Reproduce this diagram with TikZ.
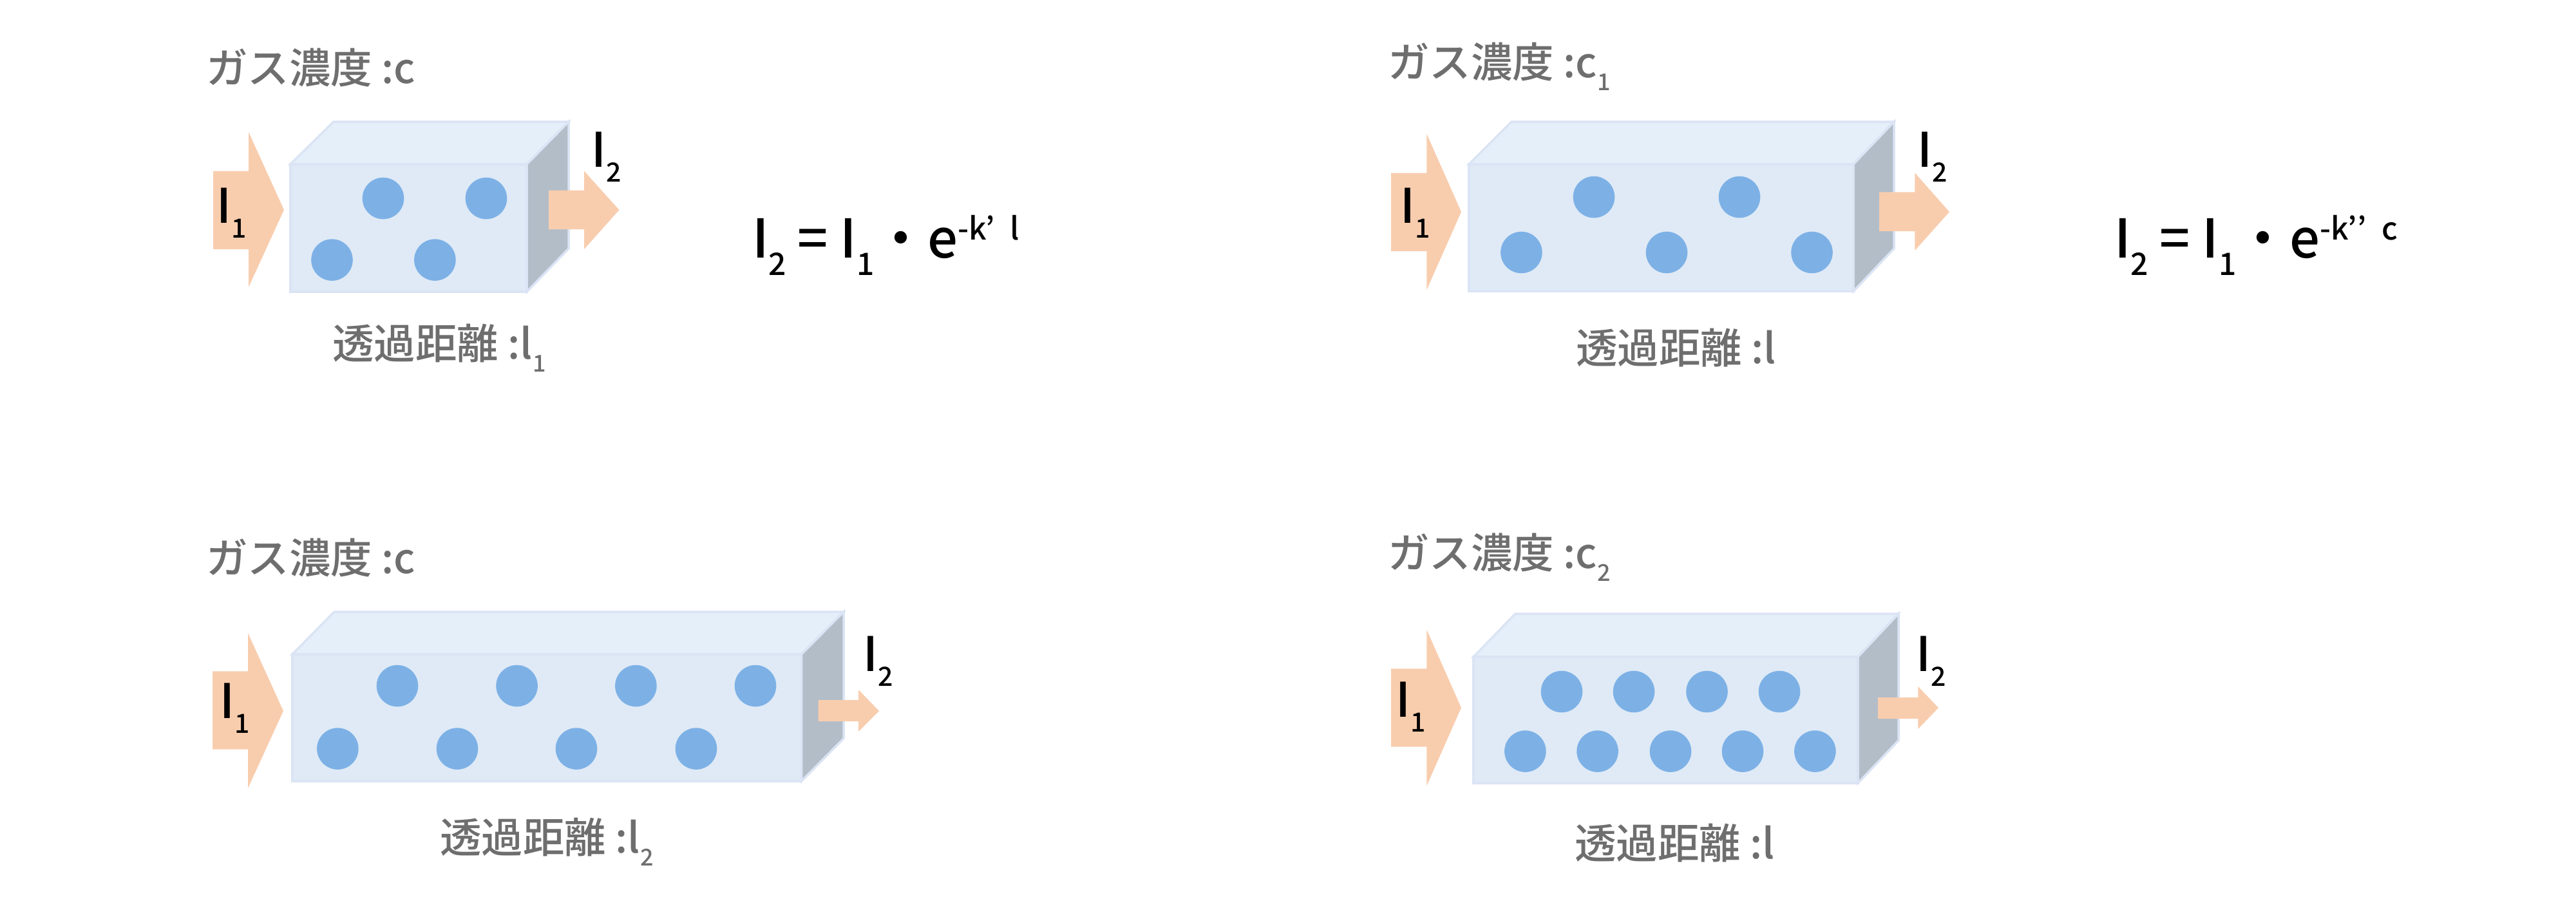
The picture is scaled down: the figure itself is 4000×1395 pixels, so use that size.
\documentclass[tikz,border=0pt]{standalone}
\usepackage{fontspec}
\usepackage{tikz}
\setmainfont{Noto Sans CJK JP Medium}
\newcommand{\lowi}[1]{\raisebox{-23pt}{\fontsize{41pt}{41pt}\selectfont #1}}
\newcommand{\lowt}[1]{\raisebox{-20pt}{\fontsize{36pt}{36pt}\selectfont #1}}
\newcommand{\lowf}[1]{\raisebox{-27pt}{\fontsize{48pt}{48pt}\selectfont #1}}
\newcommand{\upf}[1]{\raisebox{28pt}{\fontsize{48pt}{48pt}\selectfont #1}}

\begin{document}
\begin{tikzpicture}[x=1pt,y=-1pt,
    front/.style={fill=boxfront,draw=boxline,line width=3.5pt,line join=miter},
    top/.style={fill=boxtop,draw=boxline,line width=3.5pt},
    side/.style={fill=boxside,draw=boxline,line width=3.5pt},
    beam/.style={fill=beamc},
    gas/.style={fill=gasc},
    grayt/.style={inner sep=0pt,anchor=base west,text=txtc,font=\fontsize{64.5pt}{64.5pt}\selectfont},
    intens/.style={inner sep=0pt,anchor=base west,text=black,font=\fontsize{74pt}{74pt}\selectfont},
    law/.style={inner sep=0pt,anchor=base west,text=black,font=\fontsize{83pt}{83pt}\selectfont}]
    \definecolor{boxfront}{HTML}{DFEAF6}
    \definecolor{boxtop}{HTML}{E5EFF9}
    \definecolor{boxside}{HTML}{B3BDC8}
    \definecolor{boxline}{HTML}{DAE4F4}
    \definecolor{beamc}{HTML}{F8CDAE}
    \definecolor{gasc}{HTML}{7DB1E6}
    \definecolor{txtc}{HTML}{6E6E6E}
    \useasboundingbox (0,0) rectangle (4000,1395);
    % upper left
    \fill[beam] (331,265.5) -- (386,265.5) -- (386,205) -- (441,326) -- (386,446) -- (386,387) -- (331,387) -- cycle;
    \draw[top] (451,255) -- (518,189) -- (883,189) -- (818,255) -- cycle;
    \draw[side] (818,255) -- (883,189) -- (883,386) -- (818,453) -- cycle;
    \draw[front] (451,255) rectangle (818,453);
    \foreach \cx/\cy in {595/308,755/308,515.5/403.6,675.4/403.6}
        \fill[gas] (\cx,\cy) circle[radius=32.3];
    \fill[beam] (852,295.5) -- (907,295.5) -- (907,265.5) -- (961.5,326) -- (907,387) -- (907,356) -- (852,356) -- cycle;
    \node[grayt] (conca) at (320,129.4) {ガス濃度 :c};
    \node[grayt] (lena) at (516,557) {透過距離 :l\lowt{1}};
    \node[intens] (ina) at (336,346) {I\lowi{1}};
    \node[intens] (outa) at (918,259) {I\lowi{2}};
    \node[law] (lawa) at (1168,400) {I\lowf{2}\hspace{17pt}=\hspace{19pt}I\lowf{1}・e\upf{-k’\hspace{24pt}l}};
    % upper right
    \fill[beam] (2160,268.5) -- (2215.4,268.5) -- (2215.4,208) -- (2269,329) -- (2215.4,450) -- (2215.4,390) -- (2160,390) -- cycle;
    \draw[top] (2281,255) -- (2347,189) -- (2941,189) -- (2878,255) -- cycle;
    \draw[side] (2878,255) -- (2941,189) -- (2941,386) -- (2878,452.3) -- cycle;
    \draw[front] (2281,255) rectangle (2878,452.3);
    \foreach \cx/\cy in {2475/306,2701/306,2362.4/392,2588/392,2813.5/392}
        \fill[gas] (\cx,\cy) circle[radius=32.3];
    \fill[beam] (2918,298.3) -- (2973.4,298.3) -- (2973.4,268.5) -- (3027,329) -- (2973.4,389) -- (2973.4,359) -- (2918,359) -- cycle;
    \node[grayt] (concb) at (2155,120.5) {ガス濃度 :c\lowt{1}};
    \node[grayt] (lenb) at (2447,564.6) {透過距離 :l};
    \node[intens] (inb) at (2174,346) {I\lowi{1}};
    \node[intens] (outb) at (2977,259) {I\lowi{2}};
    \node[law] (lawb) at (3283,400) {I\lowf{2}\hspace{17pt}=\hspace{19pt}I\lowf{1}・e\upf{-k’’\hspace{24pt}c}};
    % lower left
    \fill[beam] (330,1042.4) -- (385,1042.4) -- (385,983) -- (440,1104) -- (385,1224) -- (385,1163.6) -- (330,1163.6) -- cycle;
    \draw[top] (454,1016) -- (519,950) -- (1310,950) -- (1244.5,1016) -- cycle;
    \draw[side] (1244.5,1016) -- (1310,950) -- (1310,1146.7) -- (1244.5,1213) -- cycle;
    \draw[front] (454,1016) rectangle (1244.5,1213);
    \foreach \cx/\cy in {617/1065,802.6/1065,987.4/1065,1173/1065,524.4/1162.6,710/1162.6,895/1162.6,1081/1162.6}
        \fill[gas] (\cx,\cy) circle[radius=32.3];
    \fill[beam] (1270.5,1087) -- (1333,1087) -- (1333,1071) -- (1365,1104) -- (1333,1136) -- (1333,1120) -- (1270.5,1120) -- cycle;
    \node[grayt] (concc) at (320,890.4) {ガス濃度 :c};
    \node[grayt] (lenc) at (683,1324) {透過距離 :l\lowt{2}};
    \node[intens] (inc) at (341,1115) {I\lowi{1}};
    \node[intens] (outc) at (1340,1042) {I\lowi{2}};
    % lower right
    \fill[beam] (2160,1038.4) -- (2215.4,1038.4) -- (2215.4,978) -- (2269,1099) -- (2215.4,1220) -- (2215.4,1159.6) -- (2160,1159.6) -- cycle;
    \draw[top] (2288,1020) -- (2353,953) -- (2948,953) -- (2885,1020) -- cycle;
    \draw[side] (2885,1020) -- (2948,953) -- (2948,1149.7) -- (2885,1216) -- cycle;
    \draw[front] (2288,1020) rectangle (2885,1216);
    \foreach \cx/\cy in {2425/1074,2537/1074,2650.5/1074,2763/1074,2368.4/1166.6,2480.6/1166.6,2594/1166.6,2706/1166.6,2818.4/1166.6}
        \fill[gas] (\cx,\cy) circle[radius=32.3];
    \fill[beam] (2916,1083) -- (2978.4,1083) -- (2978.4,1066) -- (3010,1099) -- (2978.4,1132) -- (2978.4,1116) -- (2916,1116) -- cycle;
    \node[grayt] (concd) at (2155,882.5) {ガス濃度 :c\lowt{2}};
    \node[grayt] (lend) at (2445,1333) {透過距離 :l};
    \node[intens] (ind) at (2167,1113) {I\lowi{1}};
    \node[intens] (outd) at (2975,1042) {I\lowi{2}};
\end{tikzpicture}
\end{document}
